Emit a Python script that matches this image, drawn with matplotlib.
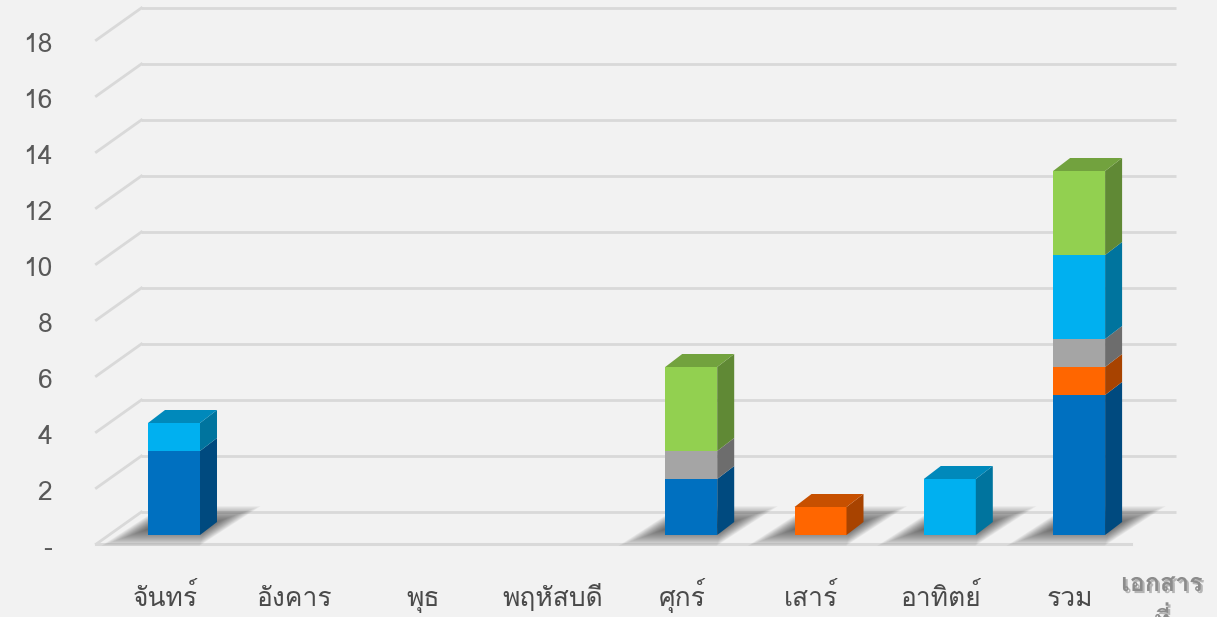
import matplotlib
matplotlib.use("Agg")
import matplotlib.pyplot as plt
from matplotlib import font_manager
from matplotlib.ft2font import FT2Font
from matplotlib.patches import Polygon
import matplotlib.patheffects as pe

# ---------------- data ----------------
categories = ["จันทร์", "อังคาร", "พุธ", "พฤหัสบดี", "ศุกร์", "เสาร์", "อาทิตย์", "รวม"]
series_dark_blue = [3, 0, 0, 0, 2, 0, 0, 5]
series_orange = [0, 0, 0, 0, 0, 1, 0, 1]
series_gray = [0, 0, 0, 0, 1, 0, 0, 1]
series_light_blue = [1, 0, 0, 0, 0, 0, 2, 3]
series_green = [0, 0, 0, 0, 3, 0, 0, 3]
y_ticks = [0, 2, 4, 6, 8, 10, 12, 14, 16, 18]
y_tick_labels = ["-", "2", "4", "6", "8", "10", "12", "14", "16", "18"]
legend_lines = ["เอกสาร", "ที่"]

series = [series_dark_blue, series_orange, series_gray, series_light_blue, series_green]
colors = ["#0070C0", "#FF6600", "#A5A5A5", "#00B0F0", "#92D050"]

# ---------------- fonts ----------------
def find_thai_fonts():
    found = []
    for f in font_manager.fontManager.ttflist:
        try:
            cmap = FT2Font(f.fname).get_charmap()
        except Exception:
            continue
        if 0x0E08 in cmap and 0x0E31 in cmap and 0x0E4C in cmap:
            if f.name not in found:
                found.append(f.name)
    return found

thai_fonts = find_thai_fonts()
pref = [f for f in ["Loma", "Tahoma", "Leelawadee UI"] if f in thai_fonts]
fam = (pref[:1] or thai_fonts[:1]) + ["DejaVu Sans"]
plt.rcParams["font.family"] = fam

# ---------------- layout (pixels) ----------------
W, H = 1217, 617
X0, SX = 174.0, 129.3     # pixel x of first category, px per category
Y0, SY = 535.0, 28.0      # pixel y (from top) of value 0 on bar front plane, px per unit

def dx(px):
    return px / SX

def dy(px):
    return px / SY

fig = plt.figure(figsize=(W / 100, H / 100), dpi=100)
fig.patch.set_facecolor("#F2F2F2")
ax = fig.add_axes([0, 0, 1, 1])
ax.set_xlim(-X0 / SX, (W - X0) / SX)
ax.set_ylim(-(H - Y0) / SY, Y0 / SY)
ax.axis("off")

n = len(categories)
x_left, x_right = -0.5, n - 0.5
back_x, back_y = dx(32), dy(23)      # back wall offset
front_x, front_y = dx(-13), dy(-9)   # front floor edge offset
grid_c = "#D9D9D9"

# back wall gridlines + left side lines
for v in y_ticks:
    ax.plot([x_left + back_x, x_right + back_x], [v + back_y, v + back_y],
            color=grid_c, lw=2, zorder=1, solid_capstyle="butt")
    ax.plot([x_left + front_x, x_left + back_x], [v + front_y, v + back_y],
            color=grid_c, lw=2, zorder=1)
# floor front edge
ax.plot([x_left + front_x, x_right + front_x], [front_y, front_y],
        color=grid_c, lw=2.2, zorder=1)

# y labels
for v, lab in zip(y_ticks, y_tick_labels):
    ax.text(x_left + front_x - dx(44), v + front_y - dy(4.5), lab,
            ha="right", va="center", fontsize=19, color="#595959")

# ---------------- bars ----------------
w = 52 / SX
ddx, ddy = dx(17), dy(13)
totals = [sum(s[i] for s in series) for i in range(n)]

def shade(c, f):
    r, g, b = matplotlib.colors.to_rgb(c)
    return (r * f, g * f, b * f)

for i in range(n):
    if totals[i] <= 0:
        continue
    # soft shadow on floor (layered parallelograms = blur)
    cxp, cyp = 7.0, 9.0           # centre offset from bar base centre (px)
    A0, Vx0, Vy0 = 38.0, 17.0, 11.0
    L = 20
    for k in range(L):
        e = 11.0 - 24.0 * k / (L - 1)
        A = A0 + e
        Vy = max(Vy0 + e * 0.8, 2.0)
        Vx = Vy * Vx0 / Vy0
        cx, cy = i + dx(cxp), dy(cyp)
        pts = [(cx - dx(A) - dx(Vx), cy - dy(Vy)), (cx + dx(A) - dx(Vx), cy - dy(Vy)),
               (cx + dx(A) + dx(Vx), cy + dy(Vy)), (cx - dx(A) + dx(Vx), cy + dy(Vy))]
        ax.add_patch(Polygon(pts, closed=True, facecolor="black", edgecolor="none",
                             alpha=0.045, zorder=2))

    bottom = 0
    segs = [(s[i], c) for s, c in zip(series, colors) if s[i] > 0]
    for j, (h, c) in enumerate(segs):
        xl, xr = i - w / 2, i + w / 2
        ax.bar(i, h, bottom=bottom, width=w, color=c, edgecolor="none", zorder=3)
        side = [(xr, bottom), (xr + ddx, bottom + ddy), (xr + ddx, bottom + h + ddy), (xr, bottom + h)]
        ax.add_patch(Polygon(side, closed=True, facecolor=shade(c, 0.66), edgecolor="none", zorder=3))
        if j == len(segs) - 1:
            t = bottom + h
            top = [(xl, t), (xr, t), (xr + ddx, t + ddy), (xl + ddx, t + ddy)]
            ax.add_patch(Polygon(top, closed=True, facecolor=shade(c, 0.78), edgecolor="none", zorder=3))
        bottom += h

# category labels
for i, lab in enumerate(categories):
    ax.text(i - dx(9), -dy(606 - Y0), lab, ha="center", va="baseline",
            fontsize=19, color="#4A4A4A")

# legend (cut off at the right / bottom edge as in the reference)
for k, line in enumerate(legend_lines):
    ax.text((1162 - X0) / SX, -dy(591 + 37 * k - Y0), line, ha="center", va="baseline",
            fontsize=18, fontweight="bold", color="#8C8C8C",
            path_effects=[pe.withSimplePatchShadow(offset=(1.5, -1.5), alpha=0.3)])

fig.savefig("out.png", dpi=100, facecolor=fig.get_facecolor())
